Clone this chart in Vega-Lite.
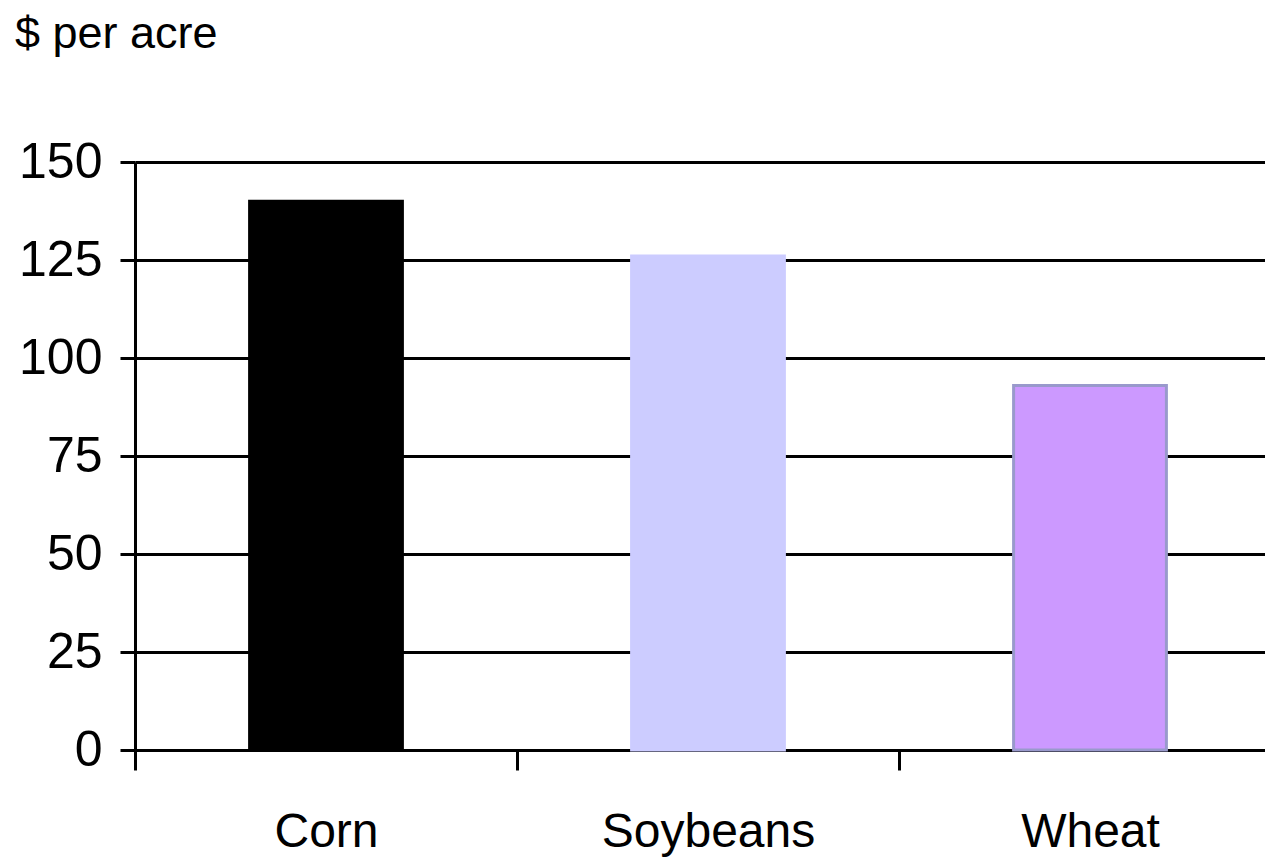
{
  "$schema": "https://vega.github.io/schema/vega-lite/v6.json",
  "autosize": "none",
  "padding": {"left": 135, "top": 162, "right": 0, "bottom": 108},
  "width": 1146,
  "height": 588,
  "background": "white",
  "title": {
    "text": "$ per acre",
    "anchor": "start",
    "frame": "group",
    "dx": -120,
    "offset": 80,
    "font": "Liberation Sans",
    "fontSize": 45,
    "fontWeight": "normal",
    "color": "black"
  },
  "data": {
    "values": [
      {"crop": "Corn", "value": 140},
      {"crop": "Soybeans", "value": 126},
      {"crop": "Wheat", "value": 93}
    ]
  },
  "mark": {"type": "bar", "strokeWidth": 3, "width": {"band": 0.4}},
  "encoding": {
    "x": {
      "field": "crop",
      "type": "nominal",
      "sort": null,
      "title": null,
      "scale": {"paddingInner": 0, "paddingOuter": 0},
      "axis": {
        "labelAngle": 0,
        "labelFont": "Liberation Sans",
        "labelFontSize": 48,
        "labelLimit": 400,
        "labelColor": "black",
        "labelPadding": 38,
        "tickBand": "extent",
        "tickSize": 20,
        "tickWidth": 3,
        "tickColor": "black",
        "domainColor": "black",
        "domainWidth": 3
      }
    },
    "y": {
      "field": "value",
      "type": "quantitative",
      "title": null,
      "scale": {"domain": [0, 150]},
      "axis": {
        "values": [0, 25, 50, 75, 100, 125, 150],
        "labelFont": "Liberation Sans",
        "labelFontSize": 50,
        "labelColor": "black",
        "labelPadding": 18,
        "tickSize": 15,
        "tickWidth": 3,
        "tickColor": "black",
        "domainColor": "black",
        "domainWidth": 3,
        "grid": true,
        "gridColor": "black",
        "gridWidth": 3
      }
    },
    "color": {
      "field": "crop",
      "type": "nominal",
      "scale": {"domain": ["Corn", "Soybeans", "Wheat"], "range": ["#000000", "#ccccff", "#cc99ff"]},
      "legend": null
    },
    "stroke": {
      "field": "crop",
      "type": "nominal",
      "scale": {"domain": ["Corn", "Soybeans", "Wheat"], "range": ["#000000", "#ccccff", "#9999cc"]},
      "legend": null
    }
  },
  "config": {"view": {"stroke": null}}
}
